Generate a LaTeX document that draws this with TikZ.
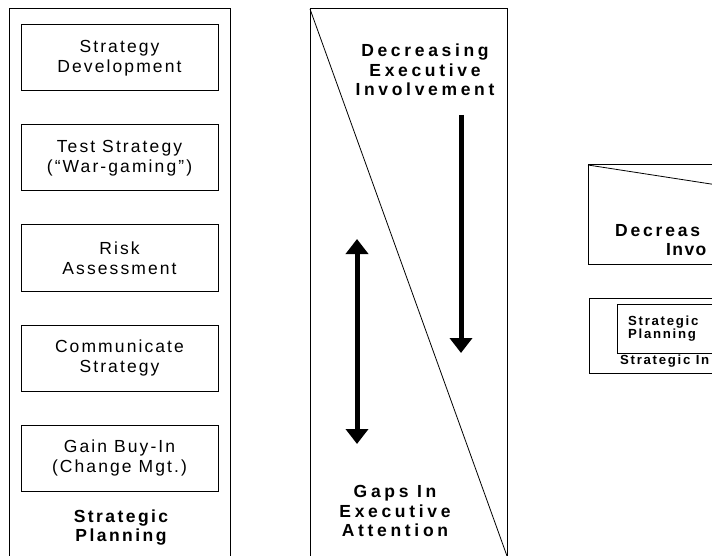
\documentclass[tikz,border=0pt]{standalone}
\usepackage{fontspec}
\setmainfont{Liberation Sans}
\newfontfamily\boxfont[LetterSpace=12]{Liberation Sans}
\newfontfamily\capfont[LetterSpace=14]{Liberation Sans}
\newfontfamily\headfont[LetterSpace=21]{Liberation Sans}
\newfontfamily\cutfont[LetterSpace=16]{Liberation Sans}
\newfontfamily\tightfont[LetterSpace=8]{Liberation Sans}
\newfontfamily\smallfont[LetterSpace=13]{Liberation Sans}
\usepackage{tikz}
\usetikzlibrary{arrows.meta,positioning}

\begin{document}
\begin{tikzpicture}[
    x=1pt, y=-1pt,
    frame/.style={draw, line width=1pt},
    stepbox/.style={rectangle, draw, line width=1pt, minimum width=197pt, minimum height=66pt, inner sep=0pt, align=center, font=\boxfont\fontsize{17.5}{20}\selectfont},
    caption/.style={align=center, inner sep=0pt, font=\capfont\bfseries\fontsize{17.5}{19}\selectfont},
    heading/.style={align=center, inner sep=0pt, font=\headfont\bfseries\fontsize{17.5}{19.5}\selectfont},
    small/.style={anchor=west, inner sep=0pt, font=\smallfont\bfseries\fontsize{13.2}{13}\selectfont},
    bigarrow/.style={line width=5pt, -{Triangle[width=22pt,length=15pt]}}
]

\useasboundingbox (0,0) rectangle (712,556);
\clip (0,0) rectangle (712,556);

% Left column
\draw[frame] (9,570) -- (9,9) -- (230,9) -- (230,570);
\node[stepbox] (develop) at (119.5,58) {Strategy\\Development};
\node[stepbox, below=33pt of develop] (test) {Test Strategy\\(“War-gaming”)};
\node[stepbox, below=33pt of test] (risk) {Risk\\Assessment};
\node[stepbox, below=33pt of risk] (communicate) {Communicate\\Strategy};
\node[stepbox, below=33pt of communicate] (buyin) {Gain Buy-In\\(Change Mgt.)};
\node[caption] (planning) at (121,528) {Strategic\\Planning};

% Middle column
\draw[frame] (310,570) -- (310,9) -- (507,9) -- (507,570);
\draw[line width=0.8pt] (310,9) -- (507,556);
\node[heading] (decreasing) at (425,70) {Decreasing\\Executive\\Involvement};
\node[heading] (gaps) at (395,511) {Gaps In\\Executive\\Attention};

% Arrows
\coordinate (downtop) at (461,115);
\coordinate (downend) at (461,353);
\coordinate (gaptop) at (357,239);
\coordinate (gapend) at (357,444);
\draw[bigarrow] (downtop) -- (downend);
\draw[bigarrow, {Triangle[width=22pt,length=15pt]}-{Triangle[width=22pt,length=15pt]}] (gaptop) -- (gapend);

% Right column (cut off)
\draw[frame] (740,165) -- (588,165) -- (588,264) -- (740,264);
\draw[line width=0.8pt] (588,165) -- (740,188.5);
\node[small, font=\cutfont\bfseries\fontsize{17.5}{19}\selectfont] (decr) at (615,231) {Decreas};
\node[small, font=\tightfont\bfseries\fontsize{17.5}{19}\selectfont] (invo) at (666,250) {Invo};

\draw[frame] (740,298) -- (589,298) -- (589,373) -- (740,373);
\draw[frame] (740,304) -- (617,304) -- (617,353) -- (740,353);
\node[small] (strat) at (628,322) {Strategic};
\node[small] (plan) at (628,335) {Planning};
\node[small] (stratin) at (620,361) {Strategic In};

\end{tikzpicture}
\end{document}
